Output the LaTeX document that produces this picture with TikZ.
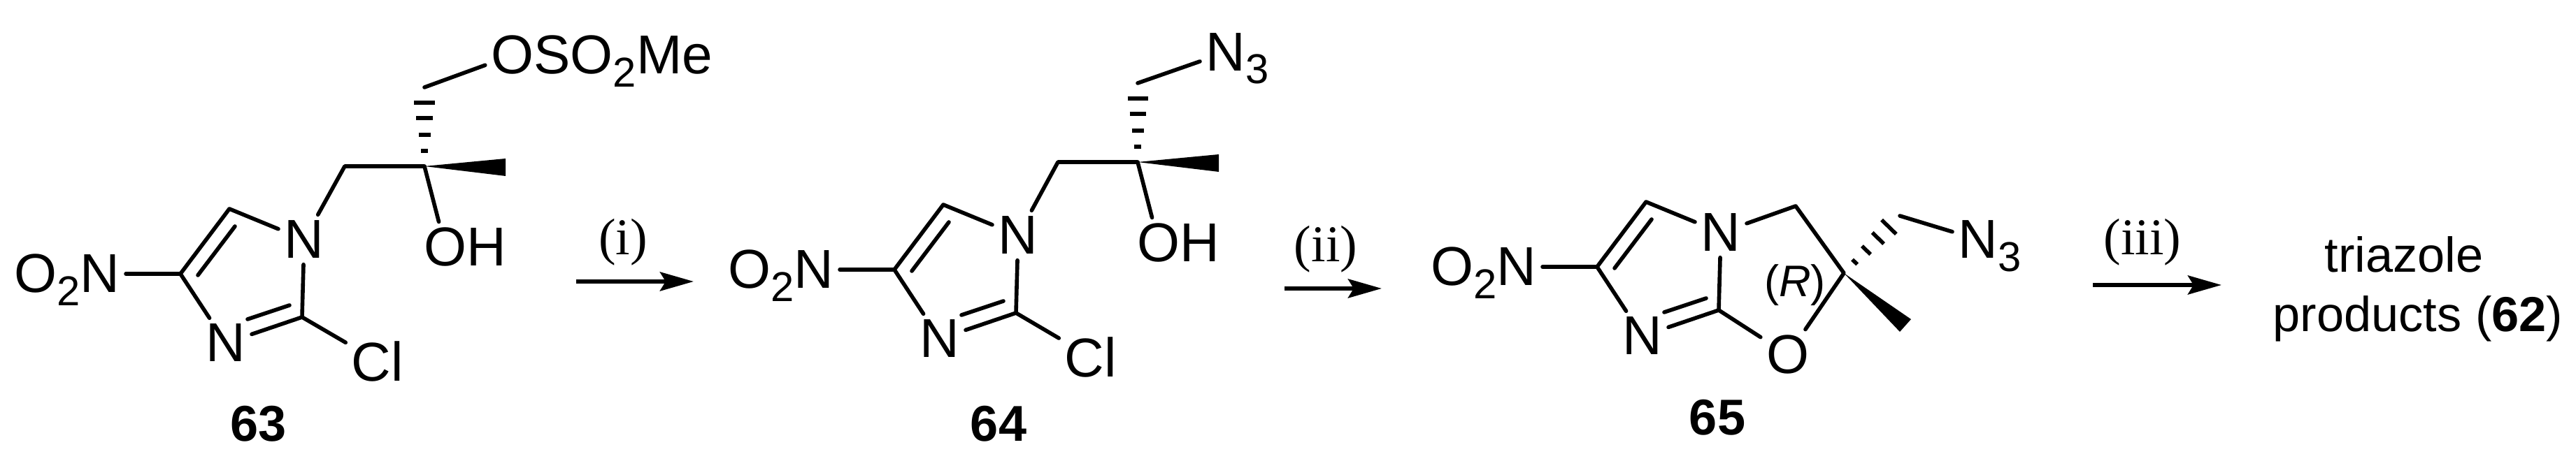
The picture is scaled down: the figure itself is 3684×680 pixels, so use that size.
\documentclass[tikz,border=0pt]{standalone}
\usepackage{fontspec}
\setmainfont{Liberation Sans}
\newfontfamily\romanfont{Liberation Serif}
\usetikzlibrary{arrows.meta, calc}
\def\lft#1{\smash{\llap{#1}}}
\def\rgt#1{\smash{\rlap{#1}}}
\def\sbs#1{\raisebox{-0.23em}{\fontsize{17}{17}\selectfont #1}}
\newcommand{\hashbond}[2]{
  \foreach \f/\w in {.195/.05,.40/.085,.61/.115,.805/.145}{
    \draw[hashbar] ($(#1)!\f!(#2)!\w cm!90:(#2)$) -- ($(#1)!\f!(#2)!\w cm!-90:(#2)$);
  }
}
\tikzstyle{atom}=[font=\fontsize{22.3}{24}\selectfont, inner sep=0.08cm]
\tikzstyle{bond}=[line width=0.056cm, line cap=round, line join=round]
\tikzstyle{hashbar}=[line width=0.055cm]
\tikzstyle{wedge}=[fill=black]
\tikzstyle{cpd}=[font=\fontsize{20.5}{24}\selectfont\bfseries]
\tikzstyle{step arrow}=[line width=0.06cm, -{Stealth[length=0.48cm,width=0.27cm,inset=0.08cm]}]
\tikzstyle{reagent}=[font=\fontsize{21}{24}\romanfont]
\begin{document}
\begin{tikzpicture}[x=0.01cm, y=-0.01cm]
  \useasboundingbox (0,0) rectangle (3684,680);

  % imidazole ring
  \foreach \i/\x/\y/\lx/\ly in {63/0/0/370/607,64/1021/-6/1428/607,65/2026/-10/2456/598}{
    \node[atom] (n1\i) at (\x+435,\y+343) {N};
    \node[atom] (n3\i) at (\x+323,\y+491) {N};
    \node[atom] (no\i) at (\x+143,\y+392) {\lft{O\sbs{2}}N};
    \coordinate (c5\i) at (\x+328,\y+299);
    \coordinate (c4\i) at (\x+258,\y+392);
    \coordinate (c2\i) at (\x+432,\y+454);
    \coordinate (d1\i) at (\x+283,\y+394);
    \coordinate (d2\i) at (\x+336,\y+324);
    \coordinate (d3\i) at (\x+354,\y+457);
    \coordinate (d4\i) at (\x+414,\y+437);
    \draw[bond] (n1\i) -- (c5\i) -- (c4\i) -- (n3\i);
    \draw[bond] (n3\i) -- (c2\i) -- (n1\i);
    \draw[bond] (no\i) -- (c4\i);
    \draw[bond] (d1\i) -- (d2\i);
    \draw[bond] (d3\i) -- (d4\i);
    \node[cpd] (lab\i) at (\lx,\ly) {\i};
  }

  % side chain
  \foreach \i/\x/\y in {63/0/0,64/1020/-6}{
    \node[atom] (cl\i) at (\x+540,\y+517) {Cl};
    \node[atom] (oh\i) at (\x+637,\y+354) {O\rgt{H}};
    \coordinate (ch\i) at (\x+493,\y+238);
    \coordinate (cs\i) at (\x+607,\y+238);
    \coordinate (top\i) at (\x+607,\y+125);
    \coordinate (wa\i) at (\x+723,\y+227);
    \coordinate (wb\i) at (\x+723,\y+252);
    \draw[bond] (c2\i) -- (cl\i);
    \draw[bond] (n1\i) -- (ch\i) -- (cs\i) -- (oh\i);
    \fill[wedge] (cs\i) -- (wa\i) -- (wb\i) -- cycle;
    \hashbond{cs\i}{top\i}
  }
  \node[atom] (ms) at (733,79) {O\rgt{SO\sbs{2}Me}};
  \node[atom] (az64) at (1753,75) {N\rgt{\sbs{3}}};
  \draw[bond] (top63) -- (ms);
  \draw[bond] (top64) -- (az64);

  % oxazoline ring of 65
  \node[atom] (o65) at (2557,508) {O};
  \node[atom] (az65) at (2829,343) {N\rgt{\sbs{3}}};
  \node[font=\fontsize{18}{20}\selectfont] (conf) at (2567,408) {(\textit{R})};
  \coordinate (ch65) at (2568,295);
  \coordinate (cs65) at (2637,391);
  \coordinate (top65) at (2717,309);
  \coordinate (wa65) at (2733,457);
  \coordinate (wb65) at (2717,475);
  \draw[bond] (n165) -- (ch65) -- (cs65) -- (o65) -- (c265);
  \draw[bond] (top65) -- (az65);
  \fill[wedge] (cs65) -- (wa65) -- (wb65) -- cycle;
  \hashbond{cs65}{top65}

  % reaction arrows
  \foreach \i/\xa/\xb/\y/\lx/\ly/\t in {1/824/992/403/891/347/i,2/1837/1976/413/1896/357/ii,3/2993/3177/408/3064/347/iii}{
    \coordinate (as\i) at (\xa,\y);
    \coordinate (ae\i) at (\xb,\y);
    \draw[step arrow] (as\i) -- (ae\i);
    \node[reagent] (r\i) at (\lx,\ly) {(\t)};
  }

  \node[align=center, font=\fontsize{20}{24}\selectfont] (prod) at (3458,414) {triazole\hspace*{0.4cm}\\products (\textbf{62})};
\end{tikzpicture}
\end{document}
